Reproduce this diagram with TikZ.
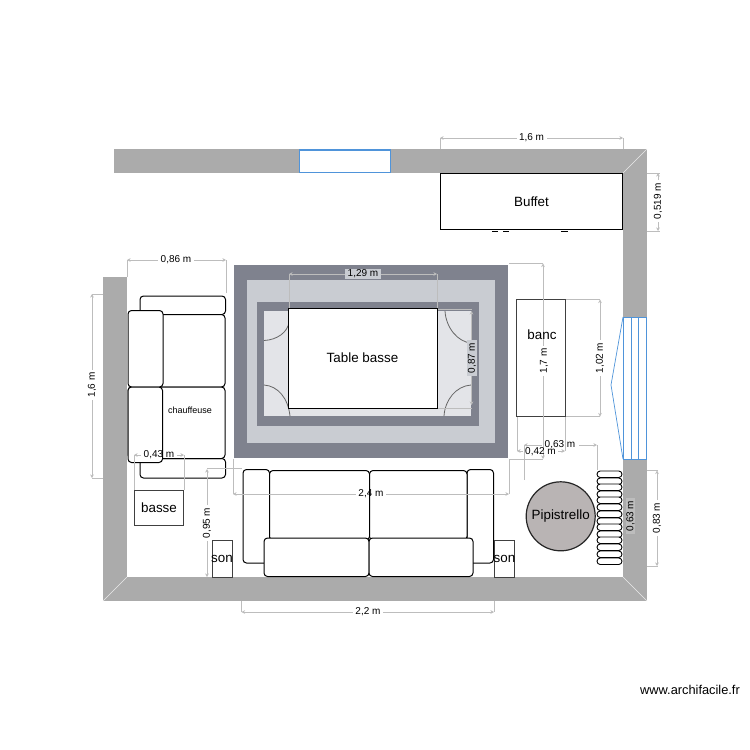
\documentclass[tikz,border=0pt]{standalone}
\usepackage{fontspec}
\setmainfont{Liberation Sans}
\usetikzlibrary{arrows.meta}
\definecolor{wallc}{HTML}{ABABAB}
\definecolor{dimc}{HTML}{BDBDBD}
\definecolor{rugA}{HTML}{7F828E}
\definecolor{rugB}{HTML}{C9CCD2}
\definecolor{rugC}{HTML}{E3E4E8}
\definecolor{winc}{HTML}{4F94DA}
\definecolor{pipc}{HTML}{B9B4B4}
\tikzset{
  wall/.style={fill=wallc,draw=none},
  miter/.style={draw=white!75!wallc,line width=.6pt},
  winbox/.style={draw=winc,line width=1.2pt},
  winthin/.style={draw=winc,line width=.7pt},
  furn/.style={draw=black,line width=1pt,fill=white,rounded corners=3.5pt},
  plainbox/.style={draw=black,line width=1pt,fill=white,outer sep=0pt},
  greybox/.style={draw=black!75,line width=1pt,fill=white,outer sep=0pt},
  dimline/.style={draw=dimc,line width=.8pt,{Stealth[length=3.5pt,width=3.5pt]}-{Stealth[length=3.5pt,width=3.5pt]}},
  dimleft/.style={draw=dimc,line width=.8pt,{Stealth[length=3.5pt,width=3.5pt]}-},
  dimright/.style={draw=dimc,line width=.8pt,-{Stealth[length=3.5pt,width=3.5pt]}},
  extline/.style={draw=dimc,line width=.7pt},
  dimlabel/.style={fill=#1,inner xsep=2.5pt,inner ysep=.5pt,text=black,font=\fontsize{10}{12}\selectfont},
  dimlabel/.default=white,
  baretext/.style={inner sep=0pt,text=black,font=\fontsize{10}{12}\selectfont},
  big/.style={font=\fontsize{13.4}{16}\selectfont,inner sep=0pt},
  arcl/.style={draw=black!60,line width=.8pt},
  pill/.style={draw=black,line width=.9pt,fill=white,rounded corners=3.2pt}
}
\begin{document}
\begin{tikzpicture}[x=1pt,y=-1pt]
\useasboundingbox (0,0) rectangle (750,750);
\fill[white] (0,0) rectangle (750,750);
% walls
\fill[wall] (114,149) rectangle (647,173);
\fill[wall] (623,149) rectangle (647,601);
\fill[wall] (103,577) rectangle (647,601);
\fill[wall] (103,277) rectangle (127,601);
\draw[miter] (647,149) -- (623,173);
\draw[miter] (103,601) -- (127,577);
\draw[miter] (647,601) -- (623,577);
% top window
\fill[white] (299,149) rectangle (391,173);
\draw[winbox] (299.5,150) -- (390.5,150) -- (390.5,172.5) -- (299.5,172.5) -- cycle;
% right window
\fill[white] (623,317) rectangle (646,459);
\draw[winthin] (623,317.5) rectangle (646,459);
\draw[winthin] (631,317) -- (631,459);
\draw[winthin] (638,317) -- (638,459);
\draw[winthin] (623,317) -- (611,385) -- (623,459);
% rug
\fill[rugA] (234,265) rectangle (508,458);
\fill[rugB] (247,280) rectangle (495,443);
\fill[rugA] (257,302) rectangle (479,426);
\fill[rugC] (264,311) rectangle (471,416);
\draw[arcl] (264,340.5) .. controls (277,340) and (288,332) .. (289,322);
\draw[arcl] (264,385) .. controls (278,386) and (288,398) .. (290,416);
\draw[arcl] (445,311) .. controls (446,328) and (458,342) .. (471,343);
\draw[arcl] (471,385) .. controls (456,386) and (445,400) .. (444,416);
% dims under furniture
\draw[extline] (289,308) -- (289,274);
\draw[extline] (437,308) -- (437,274);
\draw[extline] (437,309) -- (472,309);
\draw[extline] (437,408.5) -- (472,408.5);
\draw[extline] (440,149) -- (440,138);
\draw[extline] (623,149) -- (623,138);
% table
\node[plainbox,minimum width=148.5pt,minimum height=100.5pt,inner sep=0pt,anchor=north west] (table) at (288.5,308) {};
\node[big] (tablet) at (362.5,358) {Table basse};
% Buffet
\node[plainbox,minimum width=182pt,minimum height=56pt,inner sep=0pt,anchor=north west] (buffet) at (440.5,173.5) {};
\node[big] (buffett) at (531.5,202) {Buffet};
\draw[black,line width=1pt] (492,231) -- (498,231) (503,231) -- (509,231) (561,231) -- (568,231);
% banc
\node[greybox,minimum width=49pt,minimum height=117pt,inner sep=0pt,anchor=north west] (banc) at (516.5,299.5) {};
% armchair
\draw[furn] (140,296) rectangle (225.5,314.5);
\draw[furn] (140,458.5) rectangle (225.5,478);
\draw[furn] (150,314.5) rectangle (225,387);
\draw[furn] (128,387) rectangle (225,458.5);
\draw[furn] (128,310.5) rectangle (163,387);
\draw[furn] (128,387) rectangle (162.5,462.5);
\node[font=\fontsize{9}{11}\selectfont,inner sep=0pt] (chauf) at (190,410) {chauffeuse};
% sofa
\draw[furn] (243,469.5) rectangle (269.5,563);
\draw[furn] (467,469.5) rectangle (493.5,563);
\draw[furn] (269.5,470.5) rectangle (369.5,540);
\draw[furn] (369.5,470.5) rectangle (467,540);
\draw[furn] (264,538) rectangle (369,576.5);
\draw[furn] (369,538) rectangle (473,576.5);
% small boxes
\node[greybox,minimum width=49.5pt,minimum height=35pt,inner sep=0pt,anchor=north west] (basse) at (134,490) {};
\node[big] (basset) at (159,508) {basse};
\node[greybox,minimum width=20.5pt,minimum height=37pt,inner sep=0pt,anchor=north west] (sonl) at (212,540) {};
\node[greybox,minimum width=20pt,minimum height=37pt,inner sep=0pt,anchor=north west] (sonr) at (494.5,540.5) {};
\node[big] (sonlt) at (222,559) {son};
\node[big] (sonrt) at (504.5,559) {son};
% pipistrello
\node[circle,draw=black!85,line width=1.2pt,fill=pipc,minimum size=69pt,inner sep=0pt] (pip) at (560.7,516.3) {};
\node[big] (pipt) at (560.7,516.3) {Pipistrello};
% pills
\foreach \y in {471,478,484,491,497,504,511,518,524,531,537,544,551,558}
  \draw[pill] (597,\y) rectangle (622,\y+6.5);
% dimensions
\draw[dimline] (440,138) -- (623,138);
\node[dimlabel] (d1) at (531.5,138) {1,6 m};
\draw[extline] (647,173) -- (660,173) (647,231) -- (660,231);
\draw[dimline] (658,173) -- (658,231);
\node[dimlabel,rotate=90] (d2) at (658,201) {0,519 m};
\draw[extline] (127,277) -- (127,260) (226,293) -- (226,260);
\draw[dimline] (127,260) -- (226,260);
\node[dimlabel] (d3) at (176,260) {0,86 m};
\draw[extline] (103,294) -- (92,294) (103,478) -- (92,478);
\draw[dimline] (92,294) -- (92,478);
\node[dimlabel,rotate=90] (d4) at (92,385) {1,6 m};
\draw[extline] (134,455) -- (134,490) (184,455) -- (184,490);
\draw[dimleft] (134,455) -- (141,455);
\draw[dimright] (177,455) -- (184,455);
\node[baretext] (d5) at (159,455) {0,43 m};
\draw[extline] (207,468) -- (242,468);
\draw[dimline] (207,469) -- (207,577);
\node[dimlabel,rotate=90] (d6) at (207,523) {0,95 m};
\draw[extline] (233,459) -- (233,494) (509,459) -- (509,494);
\draw[dimleft] (233,494) -- (356,494);
\draw[dimright] (386,494) -- (509,494);
\node[baretext] (d7) at (371,494) {2,4 m};
\draw[extline] (509,263.5) -- (543,263.5) (509,459) -- (543,459);
\draw[dimline] (543,263.5) -- (543,459);
\draw[extline] (566,299.5) -- (600,299.5) (566,416.5) -- (600,416.5);
\draw[dimline] (600,299.5) -- (600,416.5);
\node[dimlabel,rotate=90] (d9) at (600,358) {1,02 m};
\draw[extline] (517,417) -- (517,451) (565,417) -- (565,451);
\draw[dimleft] (517,451) -- (523,451);
\draw[dimright] (558,451) -- (565,451);
\draw[extline] (524,445) -- (524,480) (597,445) -- (597,470);
\draw[dimleft] (524,445) -- (542,445);
\draw[dimright] (579,445) -- (597,445);
\node[baretext] (d10) at (540.5,451.5) {0,42 m};
\node[baretext] (d11) at (560,445) {0,63 m};
\node[dimlabel,rotate=90] (d8) at (544,361) {1,7 m};
\draw[dimline] (289,274) -- (437,274);
\node[dimlabel=rugB] (d12) at (363,274) {1,29 m};
\draw[dimline] (471.5,311) -- (471.5,405);
\node[dimlabel=rugB,rotate=90] (d13) at (472,358) {0,87 m};
\node[dimlabel=dimc,rotate=90] (d14) at (630.5,516) {0,63 m};
\draw[extline] (647,470.5) -- (658,470.5) (647,566) -- (658,566);
\draw[dimline] (657,470.5) -- (657,566);
\node[dimlabel,rotate=90] (d15) at (657,518) {0,83 m};
\draw[extline] (241.5,601) -- (241.5,612) (494,601) -- (494,612);
\draw[dimline] (241.5,612) -- (494,612);
\node[dimlabel] (d16) at (368,612) {2,2 m};
\node[big] (banct) at (542,334.5) {banc};
\node[font=\fontsize{12.8}{15}\selectfont,inner sep=0pt] (wm) at (690,690) {www.archifacile.fr};
\end{tikzpicture}
\end{document}
